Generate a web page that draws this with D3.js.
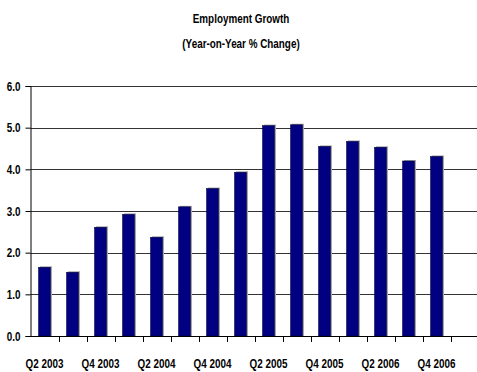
<!DOCTYPE html>
<html>
<head>
<meta charset="utf-8">
<script src="https://cdn.jsdelivr.net/npm/d3@7"></script>
<style>
  body { margin: 0; background: #fff; }
  text { font-family: "Liberation Sans", Arial, sans-serif; font-weight: bold; fill: #000; }
</style>
</head>
<body>
<div id="chart"></div>
<script>
// quarters, last one has no data yet
const quarters = ['Q2 2003', 'Q3 2003', 'Q4 2003', 'Q1 2004', 'Q2 2004', 'Q3 2004', 'Q4 2004', 'Q1 2005',
  'Q2 2005', 'Q3 2005', 'Q4 2005', 'Q1 2006', 'Q2 2006', 'Q3 2006', 'Q4 2006', 'Q1 2007']
const growth = [1.65, 1.53, 2.61, 2.92, 2.37, 3.10, 3.54, 3.93, 5.05, 5.07, 4.55, 4.67, 4.53, 4.20, 4.31, null]
const yTicks = [0, 1, 2, 3, 4, 5, 6]
const titleLines = ['Employment Growth', '(Year-on-Year % Change)']

const W = 477, H = 372
const mLeft = 30.5, mRight = 478.5, mTop = 86, mBottom = 336
const squeeze = 0.76 // text in the original is tall and narrow
const fs = '13px'

const svg = d3.select('#chart').append('svg')
  .attr('width', W).attr('height', H)

const x = d3.scaleBand().domain(quarters).range([mLeft, mRight]).padding(0)
const y = d3.scaleLinear().domain([0, 6]).range([mBottom, mTop])

// title
svg.selectAll('text.title').data(titleLines).enter().append('text')
  .attr('class', 'title')
  .attr('transform', (d, i) => `translate(241,${23 + i * 25}) scale(${squeeze},1)`)
  .attr('text-anchor', 'middle')
  .style('font-size', fs)
  .text(d => d)

// gridlines
svg.append('g').selectAll('line').data(yTicks.filter(d => d > 0)).enter().append('line')
  .attr('x1', mLeft).attr('x2', mRight)
  .attr('y1', d => Math.round(y(d)) + 0.5).attr('y2', d => Math.round(y(d)) + 0.5)
  .attr('stroke', '#333').attr('stroke-width', 1.2)

// bars
const bw = x.bandwidth() * 0.43
const data = quarters.map((q, i) => ({ q: q, v: growth[i] })).filter(d => d.v != null)
const bars = svg.append('g')
bars.selectAll('rect.shadow').data(data).enter().append('rect')
  .attr('class', 'shadow')
  .attr('x', d => x(d.q) + (x.bandwidth() - bw) / 2 + 1.5)
  .attr('y', d => y(d.v) - 1)
  .attr('width', bw)
  .attr('height', d => mBottom - y(d.v) + 1)
  .attr('fill', '#a8a8a8')
bars.selectAll('rect.bar').data(data).enter().append('rect')
  .attr('class', 'bar')
  .attr('x', d => x(d.q) + (x.bandwidth() - bw) / 2)
  .attr('y', d => y(d.v))
  .attr('width', bw)
  .attr('height', d => mBottom - y(d.v))
  .attr('fill', '#000080')
  .attr('stroke', '#000033').attr('stroke-width', 0.5)

// y axis
const yAxis = svg.append('g')
  .attr('transform', `translate(${mLeft},0)`)
  .call(d3.axisLeft(y).tickValues(yTicks).tickFormat(d3.format('.1f')).tickSize(5).tickPadding(5))
yAxis.select('.domain').attr('stroke', '#000')
yAxis.selectAll('.tick line').attr('stroke', '#000')
yAxis.selectAll('text')
  .style('font-size', fs).attr('font-family', null)
  .attr('x', -10 / squeeze)
  .attr('transform', `scale(${squeeze},1)`)

// x axis: ticks between categories, labels on every other
const xg = svg.append('g')
xg.append('line')
  .attr('x1', mLeft).attr('x2', mRight)
  .attr('y1', mBottom + 0.5).attr('y2', mBottom + 0.5)
  .attr('stroke', '#000')
xg.selectAll('line.tk').data(quarters.slice(1)).enter().append('line')
  .attr('class', 'tk')
  .attr('x1', d => Math.round(x(d)) + 0.5).attr('x2', d => Math.round(x(d)) + 0.5)
  .attr('y1', mBottom).attr('y2', mBottom + 6)
  .attr('stroke', '#000')
xg.selectAll('text').data(quarters.filter((d, i) => i % 2 == 0 && i < 15)).enter().append('text')
  .attr('transform', d => `translate(${x(d) + x.bandwidth() / 2},368) scale(${squeeze},1)`)
  .attr('text-anchor', 'middle')
  .style('font-size', fs)
  .text(d => d)
</script>
</body>
</html>
